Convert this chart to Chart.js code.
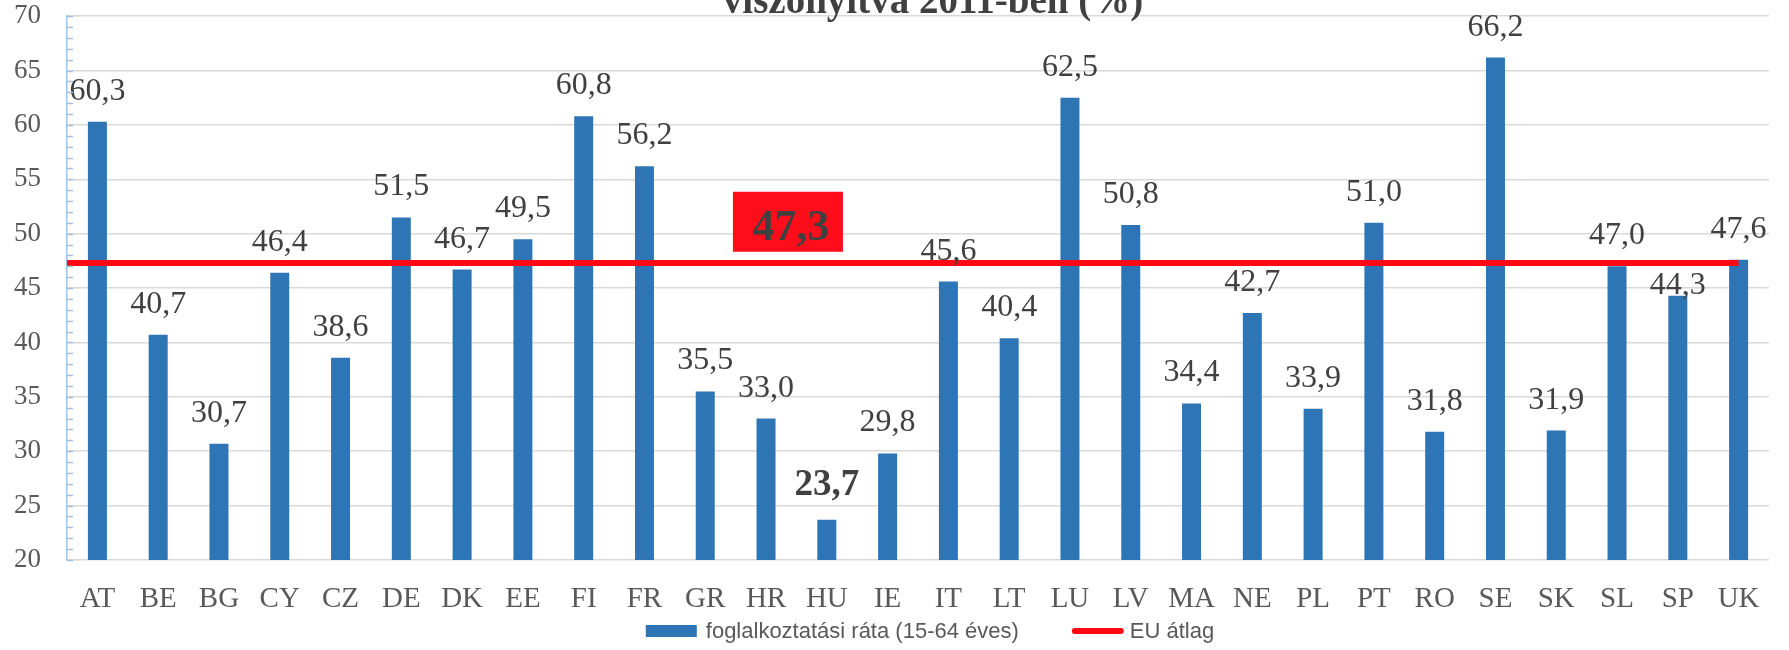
<!DOCTYPE html>
<html>
<head>
<meta charset="utf-8">
<script src="https://cdn.jsdelivr.net/npm/chart.js@4"></script>
<style>
    html, body { margin: 0; padding: 0; background: #fff; }
</style>
</head>
<body>
<canvas id="chart" width="1789" height="650"></canvas>
<script>
// Chart data
const categories = ['AT', 'BE', 'BG', 'CY', 'CZ', 'DE', 'DK', 'EE', 'FI', 'FR', 'GR', 'HR', 'HU', 'IE',
    'IT', 'LT', 'LU', 'LV', 'MA', 'NE', 'PL', 'PT', 'RO', 'SE', 'SK', 'SL', 'SP', 'UK'];
const employmentRate = [60.3, 40.7, 30.7, 46.4, 38.6, 51.5, 46.7, 49.5, 60.8, 56.2, 35.5, 33.0, 23.7, 29.8,
    45.6, 40.4, 62.5, 50.8, 34.4, 42.7, 33.9, 51.0, 31.8, 66.2, 31.9, 47.0, 44.3, 47.6];
const euAverage = [47.3];
const yTickValues = [20, 25, 30, 35, 40, 45, 50, 55, 60, 65, 70];
const highlightCategory = 'HU';

const titleText = 'viszonyítva 2011-ben (%)';
const barLabel = 'foglalkoztatási ráta (15-64 éves)';
const avgLabel = 'EU átlag';

const BLUE = '#2E75B6';
const RED = '#FF0A14';
const TEXT = '#595959';
const DARK = '#404040';
const SERIF = '"Liberation Serif", "Times New Roman", serif';
const SANS = '"Liberation Sans", Arial, sans-serif';

const fmt = (v) => v.toFixed(1).replace('.', ',');

// Small inside ticks on the blue value axis
const minorTicks = {
    id: 'minorTicks',
    afterDraw(chart) {
        const { ctx, scales: { y }, chartArea } = chart;
        ctx.save();
        ctx.strokeStyle = '#9DC3E6';
        ctx.lineWidth = 1.5;
        for (let v = y.min; v <= y.max; v++) {
            const py = Math.round(y.getPixelForValue(v)) + 0.5;
            ctx.beginPath();
            ctx.moveTo(chartArea.left, py);
            ctx.lineTo(chartArea.left + 6, py);
            ctx.stroke();
        }
        ctx.restore();
    }
};

// EU average line, from the value axis to the centre of the last bar
const avgLine = {
    id: 'avgLine',
    afterDatasetsDraw(chart) {
        const { ctx, scales: { y }, chartArea } = chart;
        const bars = chart.getDatasetMeta(0).data;
        const last = bars[bars.length - 1];
        const py = y.getPixelForValue(euAverage[0]);
        ctx.save();
        ctx.strokeStyle = RED;
        ctx.lineWidth = 6;
        ctx.beginPath();
        ctx.moveTo(chartArea.left, py);
        ctx.lineTo(last.x, py);
        ctx.stroke();
        ctx.restore();
    }
};

// Value labels above the bars (SP label sits low, just under the red line)
const labelGap = { default: 22, HU: 25, SP: 2 };
const barValues = {
    id: 'barValues',
    afterDatasetsDraw(chart) {
        const { ctx } = chart;
        const meta = chart.getDatasetMeta(0);
        ctx.save();
        ctx.fillStyle = DARK;
        ctx.textAlign = 'center';
        ctx.textBaseline = 'alphabetic';
        meta.data.forEach((bar, i) => {
            const cat = categories[i];
            const bold = cat === highlightCategory;
            ctx.font = bold ? `bold 37px ${SERIF}` : `32px ${SERIF}`;
            const gap = labelGap[cat] !== undefined ? labelGap[cat] : labelGap.default;
            ctx.fillText(fmt(employmentRate[i]), bar.x, bar.y - gap);
        });
        ctx.restore();
    }
};

// Red badge with the EU average
const avgBadge = {
    id: 'avgBadge',
    afterDatasetsDraw(chart) {
        const { ctx, scales: { x, y } } = chart;
        const cx = x.getPixelForValue(11.36);
        const cy = y.getPixelForValue(51.1);
        ctx.save();
        ctx.fillStyle = '#FF0D1A';
        ctx.fillRect(cx - 55, cy - 30, 110, 60);
        ctx.fillStyle = DARK;
        ctx.font = `bold 44px ${SERIF}`;
        ctx.textAlign = 'center';
        ctx.textBaseline = 'alphabetic';
        ctx.fillText(fmt(euAverage[0]), cx + 3, cy + 18);
        ctx.restore();
    }
};

// Title (cut off at the top like the original) and legend row
const titleAndLegend = {
    id: 'titleAndLegend',
    afterDraw(chart) {
        const { ctx, chartArea } = chart;
        const mid = (chartArea.left + chartArea.right) / 2;
        ctx.save();
        ctx.fillStyle = DARK;
        ctx.font = `bold 39px ${SERIF}`;
        ctx.textAlign = 'center';
        ctx.textBaseline = 'alphabetic';
        ctx.fillText(titleText, mid + 15, 13);

        ctx.font = `22px ${SANS}`;
        ctx.textAlign = 'left';
        ctx.textBaseline = 'middle';
        const w1 = ctx.measureText(barLabel).width;
        const w2 = ctx.measureText(avgLabel).width;
        const total = 51 + 9 + w1 + 53 + 52 + 6 + w2;
        let lx = mid + 12 - total / 2;
        const ly = 631;
        ctx.fillStyle = BLUE;
        ctx.fillRect(lx, ly - 6, 51, 12);
        lx += 60;
        ctx.fillStyle = TEXT;
        ctx.fillText(barLabel, lx, ly + 1);
        lx += w1 + 53;
        ctx.strokeStyle = RED;
        ctx.lineWidth = 6;
        ctx.lineCap = 'round';
        ctx.beginPath();
        ctx.moveTo(lx + 3, ly);
        ctx.lineTo(lx + 49, ly);
        ctx.stroke();
        lx += 58;
        ctx.fillText(avgLabel, lx, ly + 1);
        ctx.restore();
    }
};

new Chart(document.getElementById('chart').getContext('2d'), {
    type: 'bar',
    data: {
        labels: categories,
        datasets: [{
            label: barLabel,
            data: employmentRate,
            backgroundColor: BLUE,
            barPercentage: 0.3125,
            categoryPercentage: 1
        }]
    },
    options: {
        responsive: false,
        animation: false,
        layout: {
            padding: { left: 13, right: 20, top: 16, bottom: 0 }
        },
        plugins: {
            legend: { display: false },
            tooltip: { enabled: false }
        },
        scales: {
            x: {
                offset: true,
                grid: { display: false },
                border: { display: false },
                ticks: {
                    color: TEXT,
                    font: { family: SERIF, size: 29 },
                    padding: 14,
                    maxRotation: 0,
                    autoSkip: false
                },
                afterFit: (scale) => { scale.height = 90; }
            },
            y: {
                min: 20,
                max: 70,
                afterBuildTicks: (scale) => {
                    scale.ticks = yTickValues.map(v => ({ value: v }));
                },
                grid: { color: '#D9D9D9', lineWidth: 1.5, drawTicks: true, tickLength: 26, tickColor: 'rgba(0,0,0,0)' },
                border: { color: '#9DC3E6', width: 1.5 },
                ticks: {
                    color: TEXT,
                    font: { family: SERIF, size: 27 },
                    padding: 0
                },
                afterFit: (scale) => { scale.width = 54; }
            }
        }
    },
    plugins: [minorTicks, avgLine, barValues, avgBadge, titleAndLegend]
});
</script>
</body>
</html>
